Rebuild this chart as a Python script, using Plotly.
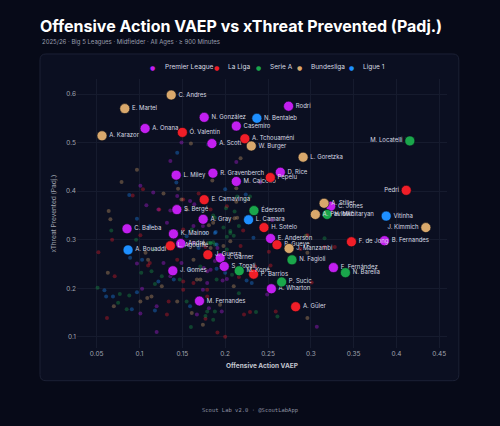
import plotly.graph_objects as go

# ---------------- data ----------------
leagues = ["Premier League", "La Liga", "Serie A", "Bundesliga", "Ligue 1"]
league_colors = ["#c21ff0", "#f01e28", "#1aa64b", "#d9a86c", "#1e8fff"]

# labelled players
lab_names = [
    "N. González", "A. Onana", "A. Scott", "Casemiro", "Rodri", "D. Rice", "L. Miley",
    "R. Gravenberch", "M. Caicedo", "S. Bergé", "A. Gray", "C. Baleba", "K. Mainoo",
    "E. Anderson", "C. Jones", "B. Fernandes", "André", "J. Garner", "S. Tonali",
    "E. Fernández", "A. Wharton", "M. Fernandes", "J. Gomes",
    "Ó. Valentín", "A. Tchouaméni", "Pepelu", "E. Camavinga", "H. Sotelo", "P. Gueye",
    "Pedri", "F. de Jong", "L. Agoumé", "J. Guerra", "P. Barrios", "A. Güler",
    "M. Locatelli", "Éderson", "H. Mkhitaryan", "M. Koné", "N. Fagioli", "N. Barella", "P. Sucic",
    "C. Andres", "E. Martel", "A. Karazor", "W. Burger", "L. Goretzka", "A. Stiller",
    "A. Pavlović", "J. Manzambi", "J. Kimmich",
    "N. Bentaleb", "L. Camara", "Vitinha", "A. Bouaddi",
]
lab_league = (["Premier League"] * 23 + ["La Liga"] * 12 + ["Serie A"] * 7
              + ["Bundesliga"] * 9 + ["Ligue 1"] * 4)
lab_vaep = [
    0.1755, 0.1065, 0.1845, 0.213, 0.274, 0.2644, 0.1428,
    0.1857, 0.213, 0.1436, 0.1743, 0.0854, 0.1396,
    0.253, 0.3232, 0.386, 0.1482, 0.1942, 0.1989,
    0.3264, 0.2539, 0.170, 0.1389,
    0.150, 0.223, 0.2527, 0.1755, 0.2453, 0.2605,
    0.4114, 0.3474, 0.136, 0.1798, 0.2332, 0.2823,
    0.4156, 0.2336, 0.319, 0.2164, 0.278, 0.3404, 0.2659,
    0.137, 0.0828, 0.0562, 0.2305, 0.291, 0.3155,
    0.3053, 0.2746, 0.4343,
    0.237, 0.2273, 0.388, 0.0866,
]
lab_xt = [
    0.552, 0.529, 0.498, 0.534, 0.575, 0.439, 0.433,
    0.437, 0.420, 0.362, 0.342, 0.3225, 0.312,
    0.3025, 0.369, 0.298, 0.292, 0.2625, 0.245,
    0.2426, 0.199, 0.1737, 0.236,
    0.521, 0.508, 0.428, 0.3824, 0.325, 0.2895,
    0.4017, 0.2957, 0.2874, 0.269, 0.229, 0.162,
    0.5035, 0.360, 0.352, 0.236, 0.2585, 0.2322, 0.213,
    0.598, 0.570, 0.514, 0.493, 0.470, 0.375,
    0.352, 0.282, 0.325,
    0.550, 0.341, 0.3486, 0.279,
]
left_labels = ["M. Locatelli", "Pedri", "J. Kimmich"]

# other (unlabelled) players per league: (VAEP, xThreat prevented)
bg_pl_x = [0.149, 0.136, 0.213, 0.101, 0.116, 0.144, 0.159, 0.164, 0.136, 0.132, 0.108, 0.163,
           0.174, 0.255, 0.241, 0.191, 0.157, 0.097, 0.175, 0.179, 0.197, 0.202, 0.174, 0.249,
           0.103, 0.120, 0.181, 0.196, 0.101, 0.307, 0.149, 0.183, 0.122, 0.163, 0.188, 0.128,
           0.179, 0.136, 0.167, 0.120]
bg_pl_y = [0.500, 0.462, 0.460, 0.411, 0.397, 0.390, 0.380, 0.373, 0.360, 0.335, 0.371, 0.328,
           0.328, 0.340, 0.418, 0.283, 0.290, 0.251, 0.242, 0.235, 0.216, 0.219, 0.197, 0.187,
           0.199, 0.163, 0.159, 0.152, 0.148, 0.121, 0.252, 0.238, 0.362, 0.294, 0.256, 0.252,
           0.211, 0.225, 0.146, 0.110]
bg_ll_x = [0.092, 0.104, 0.151, 0.123, 0.068, 0.101, 0.202, 0.169, 0.183, 0.221, 0.295, 0.296,
           0.328, 0.316, 0.177, 0.288, 0.251, 0.253, 0.235, 0.216, 0.301, 0.179, 0.222, 0.229,
           0.259, 0.177, 0.191, 0.052, 0.110, 0.071, 0.163, 0.151, 0.179, 0.132, 0.062, 0.151,
           0.218, 0.144, 0.112, 0.151, 0.134, 0.200]
bg_ll_y = [0.391, 0.404, 0.383, 0.362, 0.300, 0.309, 0.369, 0.395, 0.362, 0.319, 0.308, 0.309,
           0.285, 0.285, 0.285, 0.281, 0.275, 0.247, 0.245, 0.223, 0.212, 0.183, 0.146, 0.151,
           0.152, 0.137, 0.109, 0.274, 0.247, 0.225, 0.211, 0.197, 0.197, 0.146, 0.139, 0.321,
           0.287, 0.259, 0.252, 0.214, 0.173, 0.100]
bg_sa_x = [0.214, 0.224, 0.229, 0.201, 0.211, 0.188, 0.216, 0.206, 0.210, 0.202, 0.316, 0.181,
           0.186, 0.294, 0.161, 0.067, 0.096, 0.186, 0.198, 0.206, 0.183, 0.183, 0.202, 0.102,
           0.114, 0.118, 0.051, 0.077, 0.088, 0.075, 0.085, 0.155, 0.177, 0.216, 0.179, 0.188,
           0.236, 0.261, 0.186, 0.188, 0.171, 0.116, 0.126, 0.190, 0.147, 0.208, 0.160]
bg_sa_y = [0.389, 0.383, 0.389, 0.365, 0.358, 0.345, 0.328, 0.318, 0.308, 0.306, 0.303, 0.294,
           0.295, 0.308, 0.321, 0.319, 0.300, 0.350, 0.325, 0.314, 0.294, 0.292, 0.280, 0.232,
           0.235, 0.209, 0.201, 0.188, 0.185, 0.170, 0.157, 0.173, 0.143, 0.190, 0.152, 0.152,
           0.151, 0.142, 0.135, 0.290, 0.245, 0.280, 0.225, 0.218, 0.218, 0.228, 0.120]
bg_bl_x = [0.160, 0.097, 0.218, 0.079, 0.128, 0.145, 0.064, 0.066, 0.155, 0.186, 0.214, 0.185,
           0.213, 0.211, 0.181, 0.183, 0.175, 0.206, 0.296, 0.210, 0.194, 0.296, 0.063, 0.126,
           0.171, 0.109, 0.114, 0.101, 0.144, 0.070, 0.213, 0.149, 0.198, 0.163, 0.107, 0.167,
           0.161, 0.110, 0.174]
bg_bl_y = [0.498, 0.444, 0.468, 0.419, 0.395, 0.405, 0.359, 0.342, 0.362, 0.335, 0.345, 0.422,
           0.406, 0.344, 0.330, 0.283, 0.292, 0.297, 0.273, 0.204, 0.166, 0.139, 0.232, 0.204,
           0.218, 0.180, 0.183, 0.173, 0.173, 0.163, 0.378, 0.383, 0.287, 0.259, 0.273, 0.218,
           0.149, 0.259, 0.125]
bg_l1_x = [0.144, 0.180, 0.088, 0.143, 0.200, 0.224, 0.097, 0.112, 0.155, 0.189, 0.233, 0.188,
           0.169, 0.190, 0.190, 0.200, 0.225, 0.231, 0.089, 0.122, 0.059, 0.061, 0.069, 0.097,
           0.091, 0.118, 0.177, 0.159, 0.103, 0.140, 0.159]
bg_l1_y = [0.479, 0.496, 0.392, 0.418, 0.404, 0.393, 0.343, 0.328, 0.307, 0.316, 0.304, 0.314,
           0.283, 0.290, 0.240, 0.232, 0.216, 0.211, 0.263, 0.214, 0.196, 0.183, 0.183, 0.192,
           0.157, 0.154, 0.314, 0.238, 0.259, 0.218, 0.163]

bg_x = [bg_pl_x, bg_ll_x, bg_sa_x, bg_bl_x, bg_l1_x]
bg_y = [bg_pl_y, bg_ll_y, bg_sa_y, bg_bl_y, bg_l1_y]

ref_vaep = 0.175
ref_xt = 0.283

x_ticks = [0.05, 0.1, 0.15, 0.2, 0.25, 0.3, 0.35, 0.4, 0.45]
y_ticks = [0.1, 0.2, 0.3, 0.4, 0.5, 0.6]

# ---------------- style ----------------
BG = "#070a18"
PANEL = "#0b0f21"
BORDER = "#1c2135"
GRID = "#161b2e"
FONT = "Inter"

fig = go.Figure()

# background players
for i, lg in enumerate(leagues):
    fig.add_trace(go.Scatter(
        x=bg_x[i], y=bg_y[i], mode="markers", showlegend=False, hoverinfo="skip",
        marker=dict(size=4, color=league_colors[i], opacity=0.35, line=dict(width=0)),
    ))

# labelled players
for i, lg in enumerate(leagues):
    for side in ["middle right", "middle left"]:
        idx = [k for k, l in enumerate(lab_league) if l == lg and
               ((lab_names[k] in left_labels) == (side == "middle left"))]
        if not idx:
            continue
        fig.add_trace(go.Scatter(
            x=[lab_vaep[k] for k in idx], y=[lab_xt[k] for k in idx],
            text=[lab_names[k] for k in idx], mode="markers+text",
            textposition=side, showlegend=False,
            textfont=dict(family=FONT, size=6, color="#d8dbe3"),
            marker=dict(size=10, color=league_colors[i], line=dict(width=0.6, color=BG)),
        ))

# reference lines
fig.add_shape(type="line", xref="x", yref="paper", x0=ref_vaep, x1=ref_vaep, y0=0, y1=1,
              line=dict(color="#5a5f70", width=0.8, dash="2px,2px"), layer="below")
fig.add_shape(type="line", xref="paper", yref="y", x0=0, x1=1, y0=ref_xt, y1=ref_xt,
              line=dict(color="#5a5f70", width=0.8, dash="2px,2px"), layer="below")

# panel (rounded rectangle) behind plot
px0, px1, py0, py1 = -0.1, 1.032, -0.1216, 1.093
rx, ry = 0.0162, 0.0223
path = (f"M {px0+rx},{py0} L {px1-rx},{py0} Q {px1},{py0} {px1},{py0+ry} "
        f"L {px1},{py1-ry} Q {px1},{py1} {px1-rx},{py1} L {px0+rx},{py1} "
        f"Q {px0},{py1} {px0},{py1-ry} L {px0},{py0+ry} Q {px0},{py0} {px0+rx},{py0} Z")
fig.add_shape(type="path", xref="paper", yref="paper", path=path, layer="below",
              fillcolor=PANEL, line=dict(color=BORDER, width=1))

# legend as annotations
dot_pos = [152, 216, 258, 299, 351]
txt_pos = [162.7, 226, 268, 309.3, 360.7]
L, W = 77, 370
for i, lg in enumerate(leagues):
    fig.add_annotation(x=(dot_pos[i] - L) / W, y=1.0446, xref="paper", yref="paper",
                       text="●", showarrow=False, xanchor="center", yanchor="middle",
                       font=dict(size=6, color=league_colors[i], family="DejaVu Sans"))
    fig.add_annotation(x=(txt_pos[i] - L) / W, y=1.0446, xref="paper", yref="paper",
                       text=lg, showarrow=False, xanchor="left", yanchor="middle",
                       font=dict(size=6.5, color="#d8dbe3", family=FONT))

# subtitle & footer
fig.add_annotation(x=(40 - L) / W, y=1.1375, xref="paper", yref="paper",
                   text="2025/26 · Big 5 Leagues · Midfielder · All Ages · ≥ 900 Minutes",
                   showarrow=False, xanchor="left", yanchor="middle",
                   font=dict(size=6, color="#9a9fae", family=FONT))
fig.add_annotation(x=(250 - L) / W, y=-0.2305, xref="paper", yref="paper",
                   text="Scout Lab v2.0 · @ScoutLabApp", showarrow=False,
                   xanchor="center", yanchor="middle",
                   font=dict(size=5.5, color="#8a8fa0", family="DejaVu Sans Mono"))

fig.update_layout(
    width=500, height=426,
    margin=dict(l=77, r=53, t=79, b=78),
    paper_bgcolor=BG, plot_bgcolor="rgba(0,0,0,0)",
    showlegend=False,
    title=dict(text="<b>Offensive Action VAEP vs xThreat Prevented (Padj.)</b>",
               x=0.08, xanchor="left", xref="container",
               y=1 - 26 / 426, yanchor="middle", yref="container",
               font=dict(family=FONT, size=16, color="#ffffff")),
    font=dict(family=FONT, color="#a0a4b0"),
    xaxis=dict(range=[0.027, 0.459], tickvals=x_ticks, ticktext=[f"{v:g}" for v in x_ticks],
               showgrid=True, gridcolor=GRID, gridwidth=1, zeroline=False, showline=False,
               ticks="", tickfont=dict(size=6.5, color="#a0a4b0"),
               title=dict(text="<b>Offensive Action VAEP</b>", standoff=6,
                          font=dict(size=6.5, color="#c4c7d0"))),
    yaxis=dict(range=[0.077, 0.631], tickvals=y_ticks, ticktext=[f"{v:g}" for v in y_ticks],
               showgrid=True, gridcolor=GRID, gridwidth=1, zeroline=False, showline=False,
               ticks="", tickfont=dict(size=6.5, color="#a0a4b0"),
               title=dict(text="xThreat Prevented (Padj.)", standoff=8,
                          font=dict(size=6.5, color="#a0a4b0"))),
)

fig.write_html("out.html")
